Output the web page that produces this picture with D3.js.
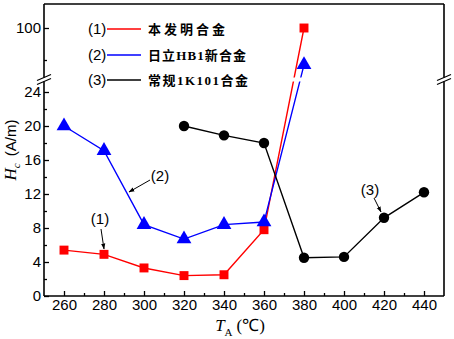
<!DOCTYPE html>
<html><head><meta charset="utf-8">
<script src="https://cdn.jsdelivr.net/npm/d3@7"></script>
<style>body{margin:0;background:#fff}svg{display:block}</style>
</head><body>
<svg id="c" width="454" height="339"></svg>
<script>
// ---- data ----
const temps12 = [260, 280, 300, 320, 340, 360, 380];
const alloy1 = [5.4, 4.9, 3.3, 2.4, 2.5, 7.8, 100];      // 本发明合金
const alloy2 = [20, 17.1, 8.4, 6.7, 8.4, 8.7, 88.5];      // 日立HB1新合金
const temps3 = [320, 340, 360, 380, 400, 420, 440];
const alloy3 = [20, 18.9, 18, 4.5, 4.6, 9.2, 12.2];       // 常规1K101合金
const seriesNames = ["本发明合金", "日立HB1新合金", "常规1K101合金"];
const seriesTags = ["(1)", "(2)", "(3)"];
const xMajor = [260, 280, 300, 320, 340, 360, 380, 400, 420, 440];
const xMinor = [270, 290, 310, 330, 350, 370, 390, 410, 430];
const yLowMajor = [0, 4, 8, 12, 16, 20, 24];
const yLowMinor = [2, 6, 10, 14, 18, 22];
const yHighMajor = [100];
const yHighMinor = [90];

const svg = d3.select("#c");
const L = 44, R = 444, T = 4, B = 296, gapTop = 77.5, gapBot = 81.5;
const x = d3.scaleLinear().domain([250, 450]).range([L, R]);
const yLow = d3.scaleLinear().domain([0, 24]).range([B, 92]);
const yHigh = d3.scaleLinear().domain([90, 100]).range([60, 28]);
const yPos = v => v > 50 ? yHigh(v) : yLow(v);

const colors = ["#ff0000", "#0000ff", "#000000"];

// clip excluding break gap
const defs = svg.append("defs");
const cp = defs.append("clipPath").attr("id", "gapclip");
cp.append("rect").attr("x", L).attr("y", T).attr("width", R - L).attr("height", gapTop - T);
cp.append("rect").attr("x", L).attr("y", gapBot).attr("width", R - L).attr("height", B - gapBot);
defs.append("marker").attr("id", "arr").attr("viewBox", "0 0 10 10").attr("refX", 9).attr("refY", 5)
  .attr("markerWidth", 6).attr("markerHeight", 6).attr("orient", "auto")
  .append("path").attr("d", "M0,1.5 L10,5 L0,8.5 Z").attr("fill", "#000");

// axes
const fontAxis = "'Liberation Sans', Arial, sans-serif";
function styleAxis(g) {
  g.select(".domain").remove();
  g.selectAll("line").attr("stroke", "#000").attr("stroke-width", 1.3);
  g.selectAll("text").attr("font-family", fontAxis).attr("font-size", 15).attr("fill", "#000");
}
svg.append("g").attr("transform", `translate(0,${B})`)
  .call(d3.axisBottom(x).tickValues(xMajor).tickSize(-5).tickPadding(3)).call(styleAxis);
svg.append("g").attr("transform", `translate(0,${B})`)
  .call(d3.axisBottom(x).tickValues(xMinor).tickSize(-3).tickFormat("")).call(styleAxis);
svg.append("g").attr("transform", `translate(${L},0)`)
  .call(d3.axisLeft(yLow).tickValues(yLowMajor).tickSize(-5).tickPadding(3)).call(styleAxis);
svg.append("g").attr("transform", `translate(${L},0)`)
  .call(d3.axisLeft(yLow).tickValues(yLowMinor).tickSize(-3).tickFormat("")).call(styleAxis);
svg.append("g").attr("transform", `translate(${L},0)`)
  .call(d3.axisLeft(yHigh).tickValues(yHighMajor).tickSize(-5).tickPadding(3)).call(styleAxis);
svg.append("g").attr("transform", `translate(${L},0)`)
  .call(d3.axisLeft(yHigh).tickValues(yHighMinor).tickSize(-3).tickFormat("")).call(styleAxis);

// frame with breaks
const frame = svg.append("g").attr("stroke", "#000").attr("stroke-width", 1.6).attr("fill", "none");
frame.append("line").attr("x1", L).attr("x2", R).attr("y1", T).attr("y2", T);
frame.append("line").attr("x1", L).attr("x2", R).attr("y1", B).attr("y2", B);
[L, R].forEach(xx => {
  frame.append("line").attr("x1", xx).attr("x2", xx).attr("y1", T).attr("y2", gapTop);
  frame.append("line").attr("x1", xx).attr("x2", xx).attr("y1", gapBot).attr("y2", B);
  [gapTop, gapBot].forEach(yy => {
    frame.append("line").attr("x1", xx - 7).attr("x2", xx + 7).attr("y1", yy + 3).attr("y2", yy - 3)
      .attr("stroke-width", 1.2);
  });
});

// series lines
const line = d3.line().x(d => x(d[0])).y(d => yPos(d[1]));
const series = [
  d3.zip(temps12, alloy1),
  d3.zip(temps12, alloy2),
  d3.zip(temps3, alloy3)
];
const lg = svg.append("g").attr("clip-path", "url(#gapclip)");
series.forEach((s, i) => {
  lg.append("path").datum(s).attr("d", line).attr("fill", "none")
    .attr("stroke", colors[i]).attr("stroke-width", 1.4);
});
// markers
const symTypes = [d3.symbolSquare, d3.symbolTriangle, d3.symbolCircle];
const symSizes = [80, 95, 85];
series.forEach((s, i) => {
  svg.append("g").selectAll("path").data(s).join("path")
    .attr("transform", d => `translate(${x(d[0])},${yPos(d[1])})`)
    .attr("d", d3.symbol().type(symTypes[i]).size(symSizes[i]))
    .attr("fill", colors[i]);
});

// legend
const legRows = [29, 55, 80];
const legWidths = [77, 98, 100];
seriesNames.forEach((n, i) => {
  const y0 = legRows[i];
  svg.append("text").attr("x", 88).attr("y", y0 + 5).text(seriesTags[i])
    .attr("font-family", fontAxis).attr("font-size", 15);
  svg.append("line").attr("x1", 107).attr("x2", 141).attr("y1", y0).attr("y2", y0)
    .attr("stroke", colors[i]).attr("stroke-width", 1.4);
  svg.append("text").attr("x", 148).attr("y", y0 + 5).text(n)
    .attr("font-family", "'Liberation Serif','Noto Sans CJK SC',serif").attr("font-size", 13)
    .attr("font-weight", "bold")
    .attr("textLength", legWidths[i]).attr("lengthAdjust", "spacing");
});

// annotations
const ann = [
  {t: "(1)", tx: 100, ty: 224, x1: 101, y1: 229, x2: 104, y2: 249},
  {t: "(2)", tx: 160, ty: 181, x1: 150, y1: 180, x2: 129, y2: 192},
  {t: "(3)", tx: 370, ty: 195, x1: 374, y1: 198, x2: 381, y2: 212}
];
ann.forEach(a => {
  svg.append("text").attr("x", a.tx).attr("y", a.ty).attr("text-anchor", "middle").text(a.t)
    .attr("font-family", fontAxis).attr("font-size", 15);
  svg.append("line").attr("x1", a.x1).attr("y1", a.y1).attr("x2", a.x2).attr("y2", a.y2)
    .attr("stroke", "#000").attr("stroke-width", 1).attr("marker-end", "url(#arr)");
});

// axis titles
const xt = svg.append("text").attr("x", 240).attr("y", 331).attr("text-anchor", "middle")
  .attr("font-family", "'Liberation Serif',serif").attr("font-size", 17);
xt.append("tspan").attr("font-style", "italic").text("T");
xt.append("tspan").attr("font-size", 11).attr("dy", 5).text("A");
xt.append("tspan").attr("dy", -5).attr("dx", 4).text("(℃)");

const yt = svg.append("text").attr("transform", "translate(16,150) rotate(-90)").attr("text-anchor", "middle");
yt.append("tspan").attr("font-family", "'Liberation Serif',serif").attr("font-style", "italic").attr("font-size", 17).text("H");
yt.append("tspan").attr("font-family", "'Liberation Serif',serif").attr("font-style", "italic").attr("font-size", 11).attr("dy", 4).text("c");
yt.append("tspan").attr("font-family", fontAxis).attr("font-size", 15).attr("dy", -4).attr("dx", 7).text("(A/m)");
</script>
</body></html>
